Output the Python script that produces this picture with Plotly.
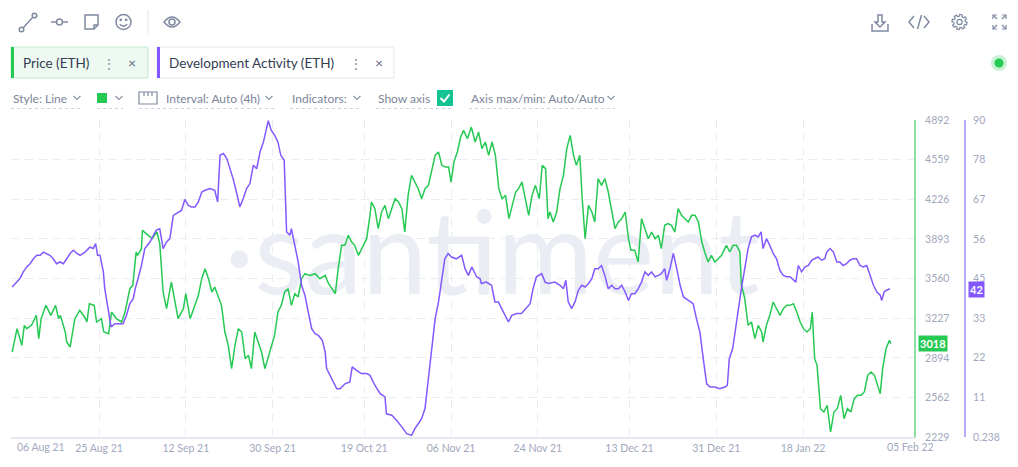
import datetime as dt
import math

import plotly.graph_objects as go

# day offsets are counted from this moment (4h candles)
START = dt.datetime(2021, 8, 7)
X_RANGE_DAYS = [-0.25, 187.0]

price_days = [
    0, 1, 2, 2.5, 3, 4, 5, 5.5, 6, 7, 8, 9, 9.6, 10, 11, 11.3, 12, 13, 14, 15, 15.5, 16, 17, 17.5,
    18.5, 19, 20, 20.6, 21.6, 22.7, 23.4, 24.4, 25, 25.7, 26, 26.8, 27, 27.9, 29, 30, 30.6, 31.3,
    32, 33, 33.4, 34.4, 35.5, 36, 36.9,
    37.6, 38.6, 39.3, 40, 40.7, 41.4, 42, 42.7, 43.4, 44.1, 44.8, 45.5, 46.2, 46.9, 47.6, 48.3,
    49, 49.6, 50.3, 51, 51.7, 52.4, 53, 53.7, 54.4, 55.1, 55.8, 56.5, 57.2, 57.9, 58.6, 59.3, 60,
    60.7, 61.7, 62.8, 63.8, 64.9, 65.6, 66.3, 67, 67.6, 68.3, 69, 69.7, 70.4, 71, 71.8, 72.5,
    73.5, 74.2,
    74.5, 75.2, 75.9, 76.6, 77.3, 78, 78.7, 79.4, 80.1, 80.8, 81.4, 82.1, 82.8, 83.5, 84.2, 84.9,
    85.6, 86.3, 87, 87.7, 88.4, 89.1, 89.8, 90.5, 91, 91.6, 92.3, 93, 93.6, 94.4, 95.2, 96, 96.7,
    97.4, 98.1, 98.8, 99.5, 100.2, 100.9, 101.6, 102.3, 103, 103.7, 104.4, 105, 105.7, 106.4,
    107.1, 107.8, 108.5, 109.3, 109.9, 110.6, 111.1,
    111.5, 112.2, 112.9, 113.6, 114.3, 115, 115.7, 116.4, 117, 117.7, 118.2, 118.8, 119.5, 120.2,
    120.8, 121.5, 122.2, 122.9, 123.6, 124.3, 125, 125.7, 126.4, 127.1, 127.8, 128.3, 129.1,
    129.8, 130.5, 131.2, 131.9, 132.6, 133.3, 134, 134.6, 135.3, 136, 136.7, 137.4, 138.1, 138.8,
    139.5, 140.2, 140.9, 141.6, 142.3, 143, 143.6, 144.3, 145, 145.7, 146.4, 147.1, 148.1,
    148.8, 149.5, 150.2, 150.9, 151.2, 151.6, 151.9, 152.6, 153.3, 154, 154.7, 155.4, 155.7,
    156.4, 157.1, 157.8, 158.5, 159.2, 159.9, 160.6, 161.3, 162, 162.7, 163.4, 164.1, 164.8,
    165.5, 165.9, 166.4, 166.9, 167.6, 168.3, 169, 169.7, 170.4, 171.1, 171.8, 172.5, 173.2,
    173.9, 174.6, 175.3, 176, 176.7, 177.4, 178.1, 178.8, 179.5, 180, 180.5, 181.2, 181.9, 182.2,
]
price_usd = [
    2943, 3139, 2999, 3167, 3139, 3167, 3251, 3055, 3223, 3335, 3251, 3335, 3223, 3251, 3111, 3027,
    2985, 3223, 3293, 3237, 3195, 3349, 3335, 3195, 3223, 3111, 3097, 3279, 3223, 3195, 3279, 3475,
    3503, 3783, 3755, 3811, 3965, 3937, 3895, 3951, 3853, 3447, 3307, 3531, 3447, 3223, 3307, 3433,
    3223,
    3307, 3419, 3559, 3643, 3559, 3447, 3489, 3419, 3335, 3111, 2999, 2803, 2999, 3139, 3111, 2887,
    2915, 2803, 3111, 3027, 2943, 2803, 2887, 2999, 3083, 3279, 3335, 3447, 3475, 3335, 3433, 3405,
    3559, 3601, 3587, 3601, 3559, 3587, 3517, 3475, 3433, 3643, 3839, 3839, 3923, 3867, 3839, 3755,
    3811, 3895, 4091,
    4203, 4147, 3979, 4119, 4175, 4063, 4147, 4231, 4203, 4147, 3951, 4259, 4427, 4371, 4315, 4231,
    4315, 4343, 4483, 4595, 4623, 4511, 4497, 4497, 4371, 4539, 4623, 4749, 4805, 4735, 4833, 4707,
    4791, 4651, 4707, 4595, 4707, 4595, 4315, 4231, 4259, 4063, 4175, 4287, 4315, 4371, 4231, 4091,
    4259, 4343, 4231, 4511, 4483, 4063,
    4119, 4035, 4119, 4315, 4427, 4651, 4763, 4595, 4511, 4595, 4231, 3895, 4175, 4119, 4035, 4399,
    4343, 4399, 4287, 4119, 3979, 4035, 4063, 4119, 3895, 3797, 3797, 3699, 4063, 3979, 3895, 3951,
    3895, 3923, 3811, 4007, 4021, 4007, 3951, 4147, 4091, 4063, 4035, 4091, 4091, 4035, 3867, 3783,
    3699, 3755, 3699, 3727, 3755, 3839,
    3783, 3839, 3839, 3783, 3503, 3447, 3391, 3167, 3195, 3055, 3167, 3111, 3027, 3167, 3251, 3363,
    3307, 3251, 3307, 3335, 3335, 3349, 3279, 3195, 3139, 3111, 3139, 3279, 2887, 2831, 2467, 2439,
    2495, 2271, 2439, 2467, 2579, 2383, 2467, 2439, 2551, 2579, 2579, 2607, 2747, 2775, 2747, 2663,
    2593, 2803, 2971, 3041, 3013,
]

dev_days = [
    0, 0.6, 1.6, 2.3, 3, 3.7, 4.4, 5.1, 5.8, 6.5, 7.2, 7.8, 8.5, 9.2, 9.9, 10.6, 11.3, 12, 12.7,
    13.4, 14.1, 15.1, 16.1, 16.8, 17.3, 17.7, 18.2, 18.9, 19.2, 19.6, 19.9, 20.5, 21.3, 22.3, 23,
    23.7, 24.4, 25.1, 25.5, 26.1, 26.8, 27.5, 28.6, 29.3, 29.9, 30.6, 31.3, 32, 32.7, 33.4, 34.4,
    35.1,
    35.8, 36.5, 37.2, 37.9, 38.6, 39.3, 40, 41, 42, 42.6, 43.1, 43.8, 44.5, 45.2, 45.8, 46.5, 47.2,
    47.9, 48.6, 49.3, 50, 50.7, 51.4, 52.1, 52.8, 53.1, 53.7, 54.4, 55.1, 55.7, 56.4, 56.9, 57.6,
    57.9, 58.6, 59.3, 60, 60.7, 61.4, 62.1, 62.8, 63.5, 64.3, 64.9, 65.2, 66.3, 67.3, 68, 69, 70,
    70.5, 71.4, 72.4, 73.5, 74.2,
    75.2, 76.3, 77.3, 77.6, 78.7, 79.7, 80.8, 81.8, 82.8, 83.5, 84.2, 84.9, 85.6, 86.3, 87, 87.7,
    88.4, 89.1, 89.7, 90.4, 91.1, 92.1, 93.2, 93.9, 94.6, 95.3, 96.3, 97, 97.3, 98.3, 99.4, 100.1,
    100.8, 101.5, 102.2, 102.9, 103.6, 104.6, 105.6, 106.6, 107.4, 108, 108.7, 109.8, 110.5,
    111.2, 112.5, 113.6, 114.3, 114.8, 115.3, 116, 116.7, 117.4, 118.1, 118.8, 119.5, 120.2,
    120.8, 121.5, 122.2, 122.9, 123.6, 124.3, 125, 125.7, 126.4, 127.1, 127.8, 128.4, 129.1,
    129.8, 130.5, 131.2, 131.9, 132.6, 133.3, 134, 134.6, 135.3, 135.7, 136.4, 137.1, 137.8,
    138.5, 139.2, 140.2, 141.2, 141.9, 142.6, 143.3, 144, 144.7, 145.7, 146.7,
    147.8, 148.3, 148.7, 149.4, 149.9, 150.5, 151.2, 151.9, 152.6, 153.3, 154, 154.7, 155.3,
    155.7, 156.4, 157.1, 157.8, 158.5, 159.2, 159.9, 160.6, 161.3, 162, 162.5, 163, 163.7, 164.4,
    165.1, 165.8, 166.5, 167.1, 167.8, 168.5, 168.9, 169.6, 170.3, 171, 171.6, 172.3, 173, 173.7,
    174.4, 175.1, 175.8, 176.5, 177.2, 177.9, 178.6, 179.3, 180, 180.3, 180.8, 181.3, 182,
]
dev_activity = [
    42.7, 43.7, 45.1, 47.0, 48.4, 49.3, 50.7, 51.7, 51.7, 52.6, 52.2, 51.7, 50.7, 49.3, 49.8, 49.3,
    50.7, 52.2, 53.1, 52.2, 51.7, 52.6, 54.0, 53.6, 55.0, 51.7, 51.7, 47.0, 42.2, 38.5, 37.1, 31.4,
    32.3, 32.3, 32.3, 34.7, 38.0, 39.4, 42.2, 45.1, 48.8, 53.6, 55.5, 57.4, 58.8, 59.2, 53.6, 55.5,
    56.4, 63.0, 63.9, 64.4,
    67.5, 65.8, 65.4, 65.4, 66.8, 69.6, 70.1, 70.6, 70.1, 66.8, 80.0, 80.5, 79.1, 76.2, 73.4, 69.6,
    65.4, 67.7, 70.6, 72.0, 77.2, 76.2, 81.0, 83.8, 88.5, 89.8, 87.1, 85.7, 83.8, 80.0, 78.6, 58.3,
    57.4, 59.2, 54.5, 49.8, 43.2, 40.4, 35.6, 30.9, 29.5, 29.0, 27.6, 24.3, 19.6, 16.8, 13.9, 13.9,
    15.3, 15.8, 20.1, 19.1, 18.2, 18.2, 17.7,
    14.9, 12.5, 11.6, 6.8, 6.4, 5.0, 3.1, 1.2, 0.7, 2.6, 4.0, 5.4, 8.3, 16.8, 26.2, 33.7, 38.5,
    45.1, 50.7, 52.2, 51.2, 50.7, 51.7, 47.9, 46.0, 48.4, 45.6, 45.1, 43.7, 44.1, 43.2, 38.5, 38.5,
    36.6, 34.7, 32.8, 34.7, 35.2, 35.2, 36.6, 38.0, 42.2, 45.6, 46.5, 44.1,
    43.7, 44.1, 43.2, 42.2, 44.6, 38.5, 36.6, 38.5, 41.8, 43.2, 42.7, 43.7, 45.1, 47.9, 47.9, 48.8,
    46.0, 42.2, 43.2, 42.2, 42.2, 43.2, 41.3, 38.9, 40.8, 40.8, 42.2, 44.1, 47.0, 46.0, 47.0, 45.6,
    46.0, 46.5, 47.9, 44.6, 47.9, 52.2, 47.9, 43.2, 39.9, 38.9, 38.0, 33.7, 30.0, 22.4, 15.3, 14.4,
    14.4, 13.9,
    14.4, 14.9, 22.4, 25.3, 30.0, 36.6, 42.2, 47.9, 53.6, 56.9, 57.4, 56.9, 58.3, 53.6, 56.4, 54.5,
    52.2, 50.7, 47.4, 46.0, 45.6, 45.6, 44.6, 44.1, 48.8, 47.0, 48.4, 48.8, 50.3, 50.7, 51.2, 50.3,
    50.7, 52.6, 53.6, 52.6, 49.8, 49.8, 48.8, 49.3, 50.3, 50.7, 50.7, 48.8, 48.4, 48.8, 46.0, 43.2,
    41.3, 40.4, 38.9, 41.3, 41.8, 42.2,
]

assert len(price_days) == len(price_usd), (len(price_days), len(price_usd))
assert len(dev_days) == len(dev_activity), (len(dev_days), len(dev_activity))

x_tick_dates = ["2021-08-25", "2021-09-12", "2021-09-30", "2021-10-19", "2021-11-06",
                "2021-11-24", "2021-12-13", "2021-12-31", "2022-01-18"]
x_tick_labels = ["25 Aug 21", "12 Sep 21", "30 Sep 21", "19 Oct 21", "06 Nov 21",
                 "24 Nov 21", "13 Dec 21", "31 Dec 21", "18 Jan 22"]
x_first_label = "06 Aug 21"
x_last_label = "05 Feb 22"

PRICE_RANGE = [2229, 4892]
price_ticks = [2229, 2562, 2894, 3227, 3560, 3893, 4226, 4559, 4892]
DEV_RANGE = [0.238, 90]
dev_tick_labels = ["0.238", "11", "22", "33", "45", "56", "67", "78", "90"]
price_last = 3018
dev_last = 42

GREEN = "#26c953"
PURPLE = "#8358ff"
GRID = "#e9ecf3"
TICK = "#9fa8bd"
ICON = "#7f8aa1"
TEXT = "#333c52"
FONT = "Lato, Open Sans, sans-serif"

# everything below is laid out in browser-window pixels; the page body adds an
# 8px margin, so the figure itself is drawn 8px up/left of those numbers
BODY = 8
PLOT_L, PLOT_R, PLOT_T, PLOT_B = 11, 914, 120, 437
DEV_AXIS_X = 965
FIG_W, FIG_H = 1018 - 2 * BODY, 467 - 2 * BODY
ML, MT = PLOT_L - BODY, PLOT_T - BODY
MR, MB = 0, FIG_H - (PLOT_B - BODY)
PW, PH = FIG_W - ML - MR, PLOT_B - PLOT_T


def px(x):
    return (x - PLOT_L) / PW


def py(y):
    return (PLOT_B - y) / PH


def svg(*parts):
    out = []
    for p in parts:
        if isinstance(p, str):
            out.append(p)
        else:
            out.append(f"{px(p[0]):.5f},{py(p[1]):.5f}")
    return " ".join(out)


def when(d):
    return START + dt.timedelta(days=d)


shapes = []
annotations = []


def line(x0, y0, x1, y1, color=ICON, width=1.5, dash="solid"):
    shapes.append(dict(type="line", xref="paper", yref="paper",
                       x0=px(x0), y0=py(y0), x1=px(x1), y1=py(y1),
                       line=dict(color=color, width=width, dash=dash)))


def rect(x0, y0, x1, y1, fill, color=None, width=1):
    shapes.append(dict(type="rect", xref="paper", yref="paper",
                       x0=px(x0), y0=py(y0), x1=px(x1), y1=py(y1), fillcolor=fill,
                       line=dict(color=color or fill, width=width if color else 0)))


def circle(cx, cy, r, fill="rgba(0,0,0,0)", color=ICON, width=1.5):
    shapes.append(dict(type="circle", xref="paper", yref="paper",
                       x0=px(cx - r), y0=py(cy + r), x1=px(cx + r), y1=py(cy - r),
                       fillcolor=fill, line=dict(color=color, width=width)))


def path(d, color=ICON, width=1.5, fill="rgba(0,0,0,0)"):
    shapes.append(dict(type="path", xref="paper", yref="paper", path=d,
                       fillcolor=fill, line=dict(color=color, width=width)))


def label(x, y, text, size=12, color=TEXT, anchor="left"):
    annotations.append(dict(xref="paper", yref="paper", x=px(x), y=py(y), text=text,
                            showarrow=False, xanchor=anchor, yanchor="middle",
                            font=dict(family=FONT, size=size, color=color)))


def chevron(cx, cy):
    path(svg("M", (cx - 3.5, cy - 2), "L", (cx, cy + 1.5), "L", (cx + 3.5, cy - 2)),
         color="#8c95a8", width=1.2)


# --- toolbar -------------------------------------------------------------
line(23, 28, 33, 17)
circle(21.5, 29.5, 2.3)
circle(34.5, 15.5, 2.3)
line(51, 22, 68, 22)
circle(59.5, 22, 3, fill="white")
path(svg("M", (85, 15), "L", (98, 15), "L", (98, 25), "L", (94, 29), "L", (85, 29), "Z"))
path(svg("M", (98, 25), "L", (94, 25), "L", (94, 29)))
circle(123.5, 22, 7.5)
circle(120.8, 19.8, 0.6, fill=ICON)
circle(126.2, 19.8, 0.6, fill=ICON)
path(svg("M", (119.8, 24.3), "Q", (123.5, 28), (127.2, 24.3)))
line(148, 10, 148, 35, color="#e3e6ee", width=1)
path(svg("M", (164, 22), "Q", (172, 12), (180, 22), "Q", (172, 32), (164, 22), "Z"))
circle(172, 22, 3)

path(svg("M", (872, 24), "L", (872, 31), "L", (888, 31), "L", (888, 24)))
path(svg("M", (878, 15), "L", (882, 15), "L", (882, 22), "L", (885, 22), "L", (880, 27),
         "L", (875, 22), "L", (878, 22), "Z"))
path(svg("M", (914, 16), "L", (909, 22), "L", (914, 28)))
path(svg("M", (921.5, 15), "L", (917.5, 29)))
path(svg("M", (924, 16), "L", (929, 22), "L", (924, 28)))
# gear outline: 8 teeth
gear = []
for k in range(16):
    r = 7.6 if k % 2 == 0 else 5.8
    for da in (-0.17, 0.17):
        a = (k + 0.5) * math.pi / 8 + da
        gear.append((959.5 + r * math.cos(a), 22 + r * math.sin(a)))
gear_parts = ["M", gear[0]]
for pt in gear[1:]:
    gear_parts += ["L", pt]
path(svg(*gear_parts, "Z"), width=1.2)
circle(959.5, 22, 2.6, width=1.2)
for sx, sy in [(993, 15), (1006, 15), (993, 29), (1006, 29)]:
    dx = 1 if sx < 1000 else -1
    dy = 1 if sy < 22 else -1
    path(svg("M", (sx + 4 * dx, sy), "L", (sx, sy), "L", (sx, sy + 4 * dy)), width=1.2)
    line(sx, sy, sx + 4 * dx, sy + 4 * dy, width=1.2)

# --- metric chips ----------------------------------------------------------
rect(11, 47, 148, 78, "#eefaf1", "#bfeacb")
rect(11, 47, 14, 78, GREEN)
label(21, 63, "Price (ETH)", size=13.5)
label(109, 63, "⋮", size=14, color="#8c95a8", anchor="center")
label(132, 62.5, "×", size=14, color="#5f6a80", anchor="center")

rect(157, 47, 394, 78, "white", "#e3e7f0")
rect(157, 47, 160, 78, PURPLE)
label(167, 63, "Development Activity (ETH)", size=13.5)
label(356, 63, "⋮", size=14, color="#8c95a8", anchor="center")
label(379, 62.5, "×", size=14, color="#5f6a80", anchor="center")

circle(999, 63, 8, fill="#c9f1d4", color="#c9f1d4", width=0)
circle(999, 63, 4.5, fill=GREEN, color=GREEN, width=0)

# --- settings row ----------------------------------------------------------
ROW = 98
SUB = "#7c8599"
label(11, ROW, "Style: Line", color=SUB)
chevron(77, ROW)
rect(97, 93, 107, 103, GREEN)
chevron(119, ROW)
path(svg("M", (139, 92), "L", (157, 92), "L", (157, 104), "L", (139, 104), "Z"), width=1.2)
for tx in (144, 148, 152):
    line(tx, 92, tx, 96, width=1.2)
label(164, ROW, "Interval: Auto (4h)", color=SUB)
chevron(269, ROW)
label(290, ROW, "Indicators:", color=SUB)
chevron(357, ROW)
label(376, ROW, "Show axis", color=SUB)
rect(437, 90, 453, 106, "#14c393")
path(svg("M", (440.5, 98), "L", (444, 101.5), "L", (449.5, 94.5)), color="white", width=2)
label(469, ROW, "Axis max/min: Auto/Auto", color=SUB)
chevron(611, ROW)
for ux0, ux1 in [(11, 81), (97, 123), (139, 274), (290, 360), (376, 453), (469, 615)]:
    line(ux0, 108.5, ux1, 108.5, color="#cdd2df", width=1, dash="dot")

# --- value badges ----------------------------------------------------------
annotations.append(dict(xref="paper", yref="y2", x=px(PLOT_R + 4), y=price_last,
                        text=f"<b>{price_last}</b>", showarrow=False, xanchor="left",
                        yanchor="middle", bgcolor=GREEN, borderpad=1,
                        font=dict(family=FONT, size=11, color="white")))
annotations.append(dict(xref="paper", yref="y3", x=px(DEV_AXIS_X + 3), y=dev_last,
                        text=f"<b>{dev_last}</b>", showarrow=False, xanchor="left",
                        yanchor="middle", bgcolor=PURPLE, borderpad=1,
                        font=dict(family=FONT, size=11, color="white")))

# edge date labels of the time axis
annotations.append(dict(xref="x2", yref="paper", x=when(X_RANGE_DAYS[0]), y=py(447),
                        text=x_first_label, showarrow=False, xanchor="left", xshift=4,
                        yanchor="middle", font=dict(family=FONT, size=10.5, color=TICK)))
annotations.append(dict(xref="x2", yref="paper", x=when(X_RANGE_DAYS[1]), y=py(447),
                        text=x_last_label, showarrow=False, xanchor="center", xshift=-4,
                        yanchor="middle", font=dict(family=FONT, size=10.5, color=TICK)))

fig = go.Figure()

# watermark sits on the hidden base subplot so the series draw over it
fig.add_trace(go.Scatter(x=[px(492) * PW / (PLOT_R - PLOT_L)], y=[py(265)], mode="text",
                         text=["·santiment"],
                         textfont=dict(family="Lato", size=116, color="#eaedf4"),
                         hoverinfo="skip", showlegend=False, xaxis="x", yaxis="y"))

fig.add_trace(go.Scatter(x=[when(d) for d in price_days], y=price_usd, mode="lines",
                         name="Price (ETH)", line=dict(color=GREEN, width=1.5),
                         xaxis="x2", yaxis="y2", showlegend=False))
fig.add_trace(go.Scatter(x=[when(d) for d in dev_days], y=dev_activity, mode="lines",
                         name="Development Activity (ETH)", line=dict(color=PURPLE, width=1.5),
                         xaxis="x2", yaxis="y3", showlegend=False))

x_domain = [0, px(PLOT_R)]
dev_step = (DEV_RANGE[1] - DEV_RANGE[0]) / (len(dev_tick_labels) - 1)
dev_tickvals = [DEV_RANGE[0] + i * dev_step for i in range(len(dev_tick_labels))]
tick_font = dict(family=FONT, size=10.5, color=TICK)

fig.update_layout(
    width=FIG_W, height=FIG_H,
    margin=dict(l=ML, r=MR, t=MT, b=MB, pad=0),
    paper_bgcolor="white", plot_bgcolor="white",
    font=dict(family=FONT, size=11, color=TICK),
    showlegend=False,
    shapes=shapes,
    annotations=annotations,
    xaxis=dict(domain=x_domain, range=[0, 1], visible=False, fixedrange=True),
    yaxis=dict(range=[0, 1], visible=False, fixedrange=True),
    xaxis2=dict(
        overlaying="x", anchor="y2", type="date",
        range=[when(X_RANGE_DAYS[0]), when(X_RANGE_DAYS[1])],
        tickvals=[when(X_RANGE_DAYS[0])] + x_tick_dates,
        ticktext=[""] + x_tick_labels,
        showgrid=True, gridcolor=GRID, griddash="8px,6px", gridwidth=1,
        showline=True, linecolor="#e6e8f0", linewidth=2,
        ticks="", tickfont=tick_font, zeroline=False,
    ),
    yaxis2=dict(
        overlaying="y", anchor="x2", side="right", range=PRICE_RANGE,
        tickvals=price_ticks, ticktext=[str(v) for v in price_ticks],
        showgrid=True, gridcolor=GRID, griddash="8px,6px", gridwidth=1,
        showline=True, linecolor="#8fdea2", linewidth=2, zeroline=False,
        ticks="", ticklabelstandoff=7, tickfont=tick_font,
    ),
    yaxis3=dict(
        overlaying="y", anchor="free", position=px(DEV_AXIS_X), side="right",
        range=DEV_RANGE, tickvals=dev_tickvals, ticktext=dev_tick_labels,
        showgrid=False, showline=True, linecolor="#baa6fb", linewidth=2, zeroline=False,
        ticks="", ticklabelstandoff=5, tickfont=tick_font,
    ),
)

fig.write_html("out.html")
